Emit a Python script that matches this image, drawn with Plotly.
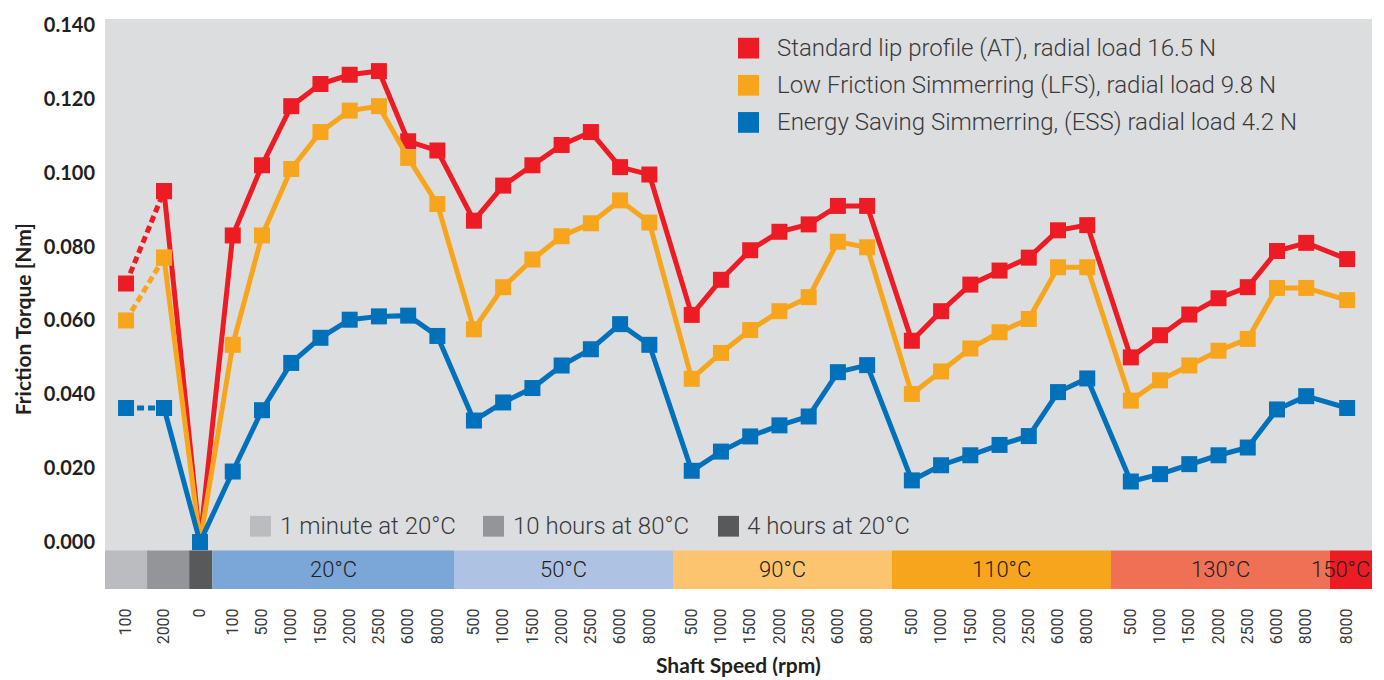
import plotly.graph_objects as go

# ---------------- data ----------------
band_labels = ["", "", "", "20°C", "50°C", "90°C", "110°C", "130°C", "150°C"]
band_speeds = [
    [100],
    [2000],
    [0],
    [100, 500, 1000, 1500, 2000, 2500, 6000, 8000],
    [500, 1000, 1500, 2000, 2500, 6000, 8000],
    [500, 1000, 1500, 2000, 2500, 6000, 8000],
    [500, 1000, 1500, 2000, 2500, 6000, 8000],
    [500, 1000, 1500, 2000, 2500, 6000, 8000],
    [8000],
]

torque_at = [0.070, 0.095, 0.000,
             0.083, 0.102, 0.118, 0.124, 0.1265, 0.1275, 0.1085, 0.106,
             0.087, 0.0965, 0.102, 0.1075, 0.111, 0.1015, 0.0995,
             0.0615, 0.071, 0.079, 0.084, 0.086, 0.091, 0.091,
             0.0545, 0.0625, 0.0697, 0.0735, 0.077, 0.0844, 0.0858,
             0.050, 0.056, 0.0616, 0.066, 0.069, 0.0788, 0.081,
             0.0766]
torque_lfs = [0.060, 0.077, 0.000,
              0.0534, 0.083, 0.101, 0.111, 0.1168, 0.118, 0.104, 0.0915,
              0.0576, 0.069, 0.0765, 0.0828, 0.0863, 0.0925, 0.0865,
              0.0442, 0.0512, 0.0574, 0.0625, 0.0663, 0.0813, 0.0798,
              0.0401, 0.0462, 0.0524, 0.0568, 0.0604, 0.0744, 0.0744,
              0.0383, 0.0438, 0.0478, 0.0518, 0.055, 0.0688, 0.0688,
              0.0655]
torque_ess = [0.0363, 0.0363, 0.000,
              0.0191, 0.0357, 0.0485, 0.0553, 0.0602, 0.0611, 0.0613, 0.0558,
              0.0329, 0.0378, 0.0417, 0.0478, 0.0522, 0.059, 0.0534,
              0.0193, 0.0245, 0.0286, 0.0316, 0.034, 0.046, 0.0479,
              0.0167, 0.0208, 0.0235, 0.0263, 0.0287, 0.0406, 0.0443,
              0.0164, 0.0184, 0.0211, 0.0235, 0.0256, 0.0359, 0.0395,
              0.0363]

series_names = ["Standard lip profile (AT), radial load 16.5 N",
                "Low Friction Simmerring (LFS), radial load 9.8 N",
                "Energy Saving Simmerring, (ESS) radial load 4.2 N"]
cond_names = ["1 minute at 20°C", "10 hours at 80°C", "4 hours at 20°C"]
y_ticks = [0.0, 0.02, 0.04, 0.06, 0.08, 0.10, 0.12, 0.14]

# ---------------- layout / style ----------------
band_widths = [1.44, 1.44, 0.79, 8.27, 7.49, 7.49, 7.49, 7.49, 1.44]
band_pads = [0.72, 0.58, 0.37, 0.70, 0.68, 0.64, 0.68, 0.68, 0.59]
band_colors = ["#BBBCBF", "#939598", "#58595B", "#7BA6D8", "#AEC3E4",
               "#FDC46F", "#F6A51D", "#F07055", "#ED1C24"]
series_colors = ["#ED1C24", "#F7A51C", "#0071BA"]
cond_colors = ["#BBBCBF", "#939598", "#58595B"]

W, H = 1384, 680
ML, MR, MT, MB = 105, 12, 12, 91
PW, PH = W - ML - MR, H - MT - MB
Y_MIN, Y_MAX = -0.0127, 0.1416

band_edges = [0.0]
for w in band_widths:
    band_edges.append(band_edges[-1] + w)
X_MAX = band_edges[-1]

xpos, xtext = [], []
for b, speeds in enumerate(band_speeds):
    for i, s in enumerate(speeds):
        xpos.append(band_edges[b] + band_pads[b] + i)
        xtext.append(str(s))


def px(xp):
    return (xp - ML) / PW


def py(yp):
    return (MT + PH - yp) / PH


def xd(u):
    return u / X_MAX


light = dict(family="Roboto", size=24, color="#3A3A3C", weight=300)
band_font = dict(family="Roboto", size=22, color="#231F20", weight=300)
bold = dict(family="Lato", size=21, color="#231F20", weight="bold")

fig = go.Figure()

for vals, col in zip([torque_at, torque_lfs, torque_ess], series_colors):
    fig.add_trace(go.Scatter(
        x=xpos[:2], y=vals[:2], mode="lines+markers",
        line=dict(color=col, width=5, dash="7px,4px"),
        marker=dict(symbol="square", size=16, color=col),
        hoverinfo="skip", cliponaxis=False))
    fig.add_trace(go.Scatter(
        x=xpos[1:], y=vals[1:], mode="lines+markers",
        line=dict(color=col, width=5),
        marker=dict(symbol="square", size=16, color=col),
        cliponaxis=False))

shapes, annotations = [], []
band_y0 = Y_MIN
band_y1 = -0.00227
band_mid = py((550 + 589) / 2)
for b in range(len(band_widths)):
    shapes.append(dict(type="rect", xref="x", yref="y",
                       x0=band_edges[b], x1=band_edges[b + 1],
                       y0=band_y0, y1=band_y1, fillcolor=band_colors[b],
                       line=dict(width=0), layer="below"))
    if band_labels[b]:
        if b == len(band_widths) - 1:
            annotations.append(dict(xref="paper", yref="paper", x=1.0,
                                    y=band_mid, text=band_labels[b],
                                    showarrow=False, xanchor="right", yanchor="middle",
                                    font=band_font))
        else:
            annotations.append(dict(xref="paper", yref="paper",
                                    x=xd((band_edges[b] + band_edges[b + 1]) / 2),
                                    y=band_mid, text=band_labels[b],
                                    showarrow=False, xanchor="center", yanchor="middle",
                                    font=band_font))

# series legend (top right)
for i, (name, col) in enumerate(zip(series_names, series_colors)):
    cy = 41.5 + i * 37.6
    shapes.append(dict(type="rect", xref="paper", yref="paper",
                       x0=px(738), x1=px(759), y0=py(cy - 10.5), y1=py(cy + 10.5),
                       fillcolor=col, line=dict(width=0)))
    annotations.append(dict(xref="paper", yref="paper", x=px(775), y=py(cy),
                            text=name, showarrow=False, xanchor="left",
                            yanchor="middle", font=light))

# condition legend (bottom)
cond_sq = [250, 483, 718]
cond_tx = [278, 511, 745]
for i, (name, col) in enumerate(zip(cond_names, cond_colors)):
    cy = 525.5
    shapes.append(dict(type="rect", xref="paper", yref="paper",
                       x0=px(cond_sq[i]), x1=px(cond_sq[i] + 21),
                       y0=py(cy - 10.5), y1=py(cy + 10.5),
                       fillcolor=col, line=dict(width=0)))
    annotations.append(dict(xref="paper", yref="paper", x=px(cond_tx[i]), y=py(cy),
                            text=name, showarrow=False, xanchor="left",
                            yanchor="middle", font=light))

# axis titles
annotations.append(dict(xref="paper", yref="paper", x=px(22), y=py(316),
                        text="Friction Torque [Nm]", textangle=-90, showarrow=False,
                        xanchor="center", yanchor="middle", font=bold))
annotations.append(dict(xref="paper", yref="paper", x=0.5, y=py(665),
                        text="Shaft Speed (rpm)", showarrow=False,
                        xanchor="center", yanchor="middle", font=bold))

fig.update_layout(
    width=W, height=H, autosize=False,
    margin=dict(l=ML, r=MR, t=MT, b=MB, pad=0),
    paper_bgcolor="white", plot_bgcolor="#DCDDDF",
    showlegend=False,
    shapes=shapes, annotations=annotations,
    xaxis=dict(range=[0, X_MAX], tickmode="array", tickvals=xpos, ticktext=xtext,
               tickangle=-90, ticks="outside", ticklen=12,
               tickcolor="rgba(0,0,0,0)", showgrid=False, zeroline=False,
               showline=False, fixedrange=True,
               tickfont=dict(family="Roboto", size=16, color="#3A3A3C", weight=400)),
    yaxis=dict(range=[Y_MIN, Y_MAX], tickmode="array", tickvals=y_ticks,
               ticktext=[f"{v:.3f}" for v in y_ticks],
               ticks="outside", ticklen=5, tickcolor="rgba(0,0,0,0)",
               showgrid=False, zeroline=False, showline=False, fixedrange=True,
               tickfont=dict(bold, size=20)),
)

fig.write_html("out.html",
               config={"displayModeBar": False},
               post_script="document.body.style.margin='0px';"
                           "document.body.style.padding='0px';")
